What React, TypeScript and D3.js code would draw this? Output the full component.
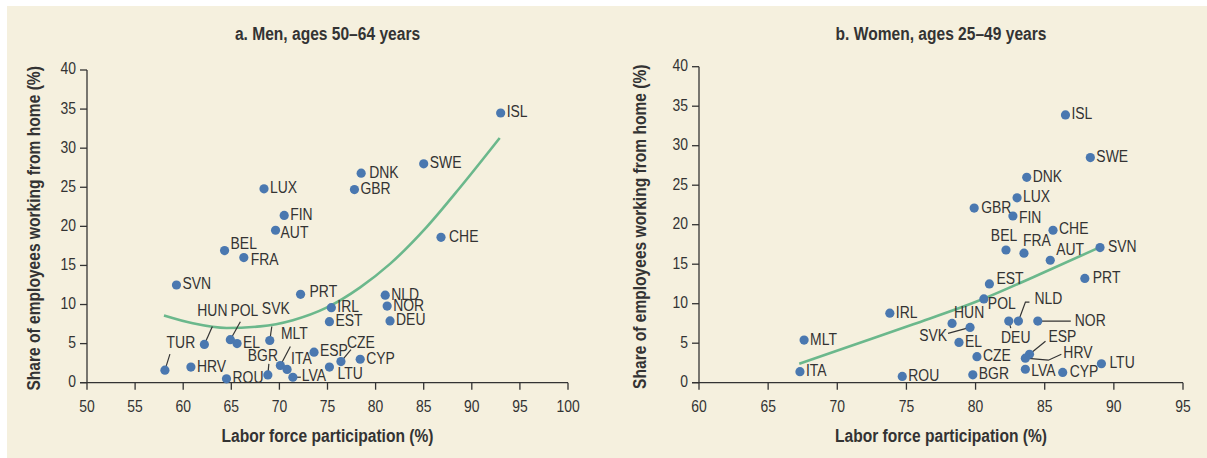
import React from 'react';
import * as d3 from 'd3';

// panel a: men 50-64
const codesA = ['ISL', 'SWE', 'DNK', 'GBR', 'LUX', 'FIN', 'AUT', 'CHE', 'BEL', 'FRA', 'SVN', 'PRT', 'NLD', 'NOR', 'IRL', 'EST', 'DEU', 'HUN', 'POL', 'EL', 'SVK', 'TUR', 'HRV', 'ROU', 'BGR', 'MLT', 'ITA', 'LVA', 'ESP', 'CZE', 'LTU', 'CYP'];
const lfpA = [93.0, 85.0, 78.5, 77.8, 68.4, 70.5, 69.6, 86.8, 64.3, 66.3, 59.3, 72.2, 81.0, 81.2, 75.4, 75.2, 81.5, 62.2, 64.9, 65.6, 69.0, 58.1, 60.8, 64.5, 68.8, 70.1, 70.8, 71.4, 73.6, 76.4, 75.2, 78.4];
const wfhA = [34.5, 28.0, 26.8, 24.7, 24.8, 21.4, 19.5, 18.6, 16.9, 16.0, 12.5, 11.3, 11.2, 9.8, 9.6, 7.8, 7.9, 4.9, 5.5, 5.0, 5.4, 1.6, 2.0, 0.5, 1.0, 2.2, 1.7, 0.7, 3.9, 2.7, 2.0, 3.0];
const fitXA = [58.0, 61.0, 64.5, 68.0, 71.4, 74.9, 78.4, 81.5, 85.3, 88.8, 92.9];
const fitYA = [8.6, 7.6, 7.0, 7.2, 8.0, 9.6, 12.2, 15.2, 19.9, 25.0, 31.3];
const xTicksA = [50, 55, 60, 65, 70, 75, 80, 85, 90, 95, 100];

// panel b: women 25-49
const codesB = ['ISL', 'SWE', 'DNK', 'LUX', 'GBR', 'FIN', 'CHE', 'BEL', 'FRA', 'AUT', 'SVN', 'PRT', 'EST', 'POL', 'IRL', 'HUN', 'SVK', 'EL', 'DEU', 'NLD', 'NOR', 'CZE', 'ESP', 'HRV', 'LVA', 'CYP', 'BGR', 'ROU', 'LTU', 'MLT', 'ITA'];
const lfpB = [86.5, 88.3, 83.7, 83.0, 79.9, 82.7, 85.6, 82.2, 83.5, 85.4, 89.0, 87.9, 81.0, 80.6, 73.8, 78.3, 79.6, 78.8, 82.4, 83.1, 84.5, 80.1, 83.9, 83.6, 83.6, 86.3, 79.8, 74.7, 89.1, 67.6, 67.3];
const wfhB = [33.9, 28.5, 26.0, 23.4, 22.1, 21.1, 19.3, 16.8, 16.4, 15.5, 17.1, 13.2, 12.5, 10.6, 8.8, 7.5, 7.0, 5.1, 7.8, 7.8, 7.8, 3.3, 3.6, 3.1, 1.7, 1.3, 1.0, 0.8, 2.4, 5.4, 1.4];
const fitXB = [67.25, 70.7, 75.5, 80.4, 84.6, 88.8];
const fitYB = [2.4, 4.5, 7.4, 10.5, 13.7, 17.0];
const xTicksB = [60, 65, 70, 75, 80, 85, 90, 95];

const yTicks = [0, 5, 10, 15, 20, 25, 30, 35, 40];

type Lab = { dx: number; dy: number; anchor?: string; line?: number[][] };

// label placement relative to dot (px)
const labelsA: Record<string, Lab> = {
  DNK: { dx: 8, dy: 0 },
  BEL: { dx: 6, dy: -6 },
  FRA: { dx: 7, dy: 3 },
  AUT: { dx: 5, dy: 3 },
  CHE: { dx: 8, dy: 0 },
  PRT: { dx: 9, dy: -2 },
  ESP: { dx: 6, dy: -1 },
  HUN: { dx: 8, dy: -33, anchor: 'middle', line: [[0, 0], [8, -18]] },
  POL: { dx: 14, dy: -28, anchor: 'middle', line: [[0, 0], [10, -18]] },
  SVK: { dx: 6, dy: -31, anchor: 'middle', line: [[0, 0], [2, -14]] },
  TUR: { dx: 16, dy: -27, anchor: 'middle', line: [[0, 0], [5, -16]] },
  BGR: { dx: -5, dy: -18, anchor: 'middle', line: [[0, 0], [1, -11]] },
  MLT: { dx: 14, dy: -31, anchor: 'middle', line: [[0, 0], [10, -19]] },
  CZE: { dx: 20, dy: -18, anchor: 'middle', line: [[0, 0], [10, -12]] },
  LVA: { dx: 9, dy: -1, line: [[0, 0], [8, 0]] },
  ITA: { dx: 4, dy: -10 },
  LTU: { dx: 8, dy: 7 },
};

const labelsB: Record<string, Lab> = {
  GBR: { dx: 7, dy: 0 },
  FIN: { dx: 6, dy: 2 },
  CHE: { dx: 6, dy: -1 },
  BEL: { dx: -2, dy: -13, anchor: 'middle' },
  FRA: { dx: -1, dy: -12 },
  AUT: { dx: 6, dy: -10 },
  SVN: { dx: 8, dy: 0 },
  PRT: { dx: 8, dy: 0 },
  EST: { dx: 7, dy: -4 },
  POL: { dx: 4, dy: 6 },
  HUN: { dx: 2, dy: -10 },
  SVK: { dx: -23, dy: 9, anchor: 'end', line: [[0, 0], [-22, 6]] },
  DEU: { dx: 7, dy: 17, anchor: 'middle', line: [[0, 0], [2, 7]] },
  NLD: { dx: 16, dy: -22, line: [[0, 0], [7, -19], [11, -19]] },
  NOR: { dx: 37, dy: 0, line: [[0, 0], [33, 0]] },
  ESP: { dx: 19, dy: -17, line: [[0, 0], [16, -13]] },
  HRV: { dx: 38, dy: -5, line: [[0, 0], [23, 2], [36, -4]] },
  LVA: { dx: 6, dy: 2 },
  CYP: { dx: 7, dy: 0 },
  LTU: { dx: 8, dy: 0 },
};

const FONT = "'Liberation Sans', Arial, sans-serif";
const INK = '#333333';
const DOT = '#4a78b0';
const FIT = '#6bb88c';
const NARROW = 0.82; // squeeze to mimic a condensed face

// text squeezed horizontally around its anchor point
const NText = (props: {
  x: number;
  y: number;
  size: number;
  anchor?: string;
  bold?: boolean;
  rotate?: boolean;
  children: React.ReactNode;
}) => (
  <text
    transform={`translate(${props.x},${props.y})${props.rotate ? ' rotate(-90)' : ''} scale(${NARROW},1)`}
    textAnchor={props.anchor || 'start'}
    dominantBaseline="middle"
    fontWeight={props.bold ? 'bold' : 'normal'}
    fontSize={props.size}
  >
    {props.children}
  </text>
);

type PanelProps = {
  title: string;
  codes: string[];
  xs: number[];
  ys: number[];
  fitX: number[];
  fitY: number[];
  xTicks: number[];
  labels: Record<string, Lab>;
  left: number;
  right: number;
  top: number;
  bottom: number;
  yTitleX: number;
};

const Panel = (p: PanelProps) => {
  const x = d3.scaleLinear().domain([p.xTicks[0], p.xTicks[p.xTicks.length - 1]]).range([p.left, p.right]);
  const y = d3.scaleLinear().domain([0, 40]).range([p.bottom, p.top]);
  const line = d3
    .line<number>()
    .x((_, i) => x(p.fitX[i]))
    .y((_, i) => y(p.fitY[i]))
    .curve(d3.curveMonotoneX);
  const midX = (p.left + p.right) / 2;
  const midY = (p.top + p.bottom) / 2;

  return (
    <g fontFamily={FONT} fill={INK}>
      <NText x={midX} y={35} anchor="middle" bold size={19}>
        {p.title}
      </NText>

      {/* fit line */}
      <path d={line(p.fitX) || ''} fill="none" stroke={FIT} strokeWidth={2.6} />

      {/* axes */}
      <line x1={p.left} x2={p.left} y1={p.top} y2={p.bottom} stroke={INK} strokeWidth={1.3} />
      <line x1={p.left - 7} x2={p.right} y1={p.bottom} y2={p.bottom} stroke={INK} strokeWidth={1.3} />
      {yTicks.map((t) => (
        <g key={'y' + t}>
          <line x1={p.left - 7} x2={p.left} y1={y(t)} y2={y(t)} stroke={INK} strokeWidth={1.3} />
          <NText x={p.left - 11} y={y(t)} anchor="end" size={17}>
            {t}
          </NText>
        </g>
      ))}
      {p.xTicks.map((t) => (
        <g key={'x' + t}>
          <line x1={x(t)} x2={x(t)} y1={p.bottom} y2={p.bottom + 7} stroke={INK} strokeWidth={1.3} />
          <NText x={x(t)} y={p.bottom + 25} anchor="middle" size={17}>
            {t}
          </NText>
        </g>
      ))}
      <NText x={midX} y={437} anchor="middle" bold size={19}>
        Labor force participation (%)
      </NText>
      <NText x={p.yTitleX} y={midY + 2} anchor="middle" bold rotate size={19}>
        Share of employees working from home (%)
      </NText>

      {/* leader lines */}
      {p.codes.map((c, i) => {
        const l = p.labels[c];
        if (!l || !l.line) return null;
        const cx = x(p.xs[i]);
        const cy = y(p.ys[i]);
        const pts = l.line.map((q) => `${cx + q[0]},${cy + q[1]}`).join(' ');
        return <polyline key={'l' + c} points={pts} fill="none" stroke={INK} strokeWidth={1.2} />;
      })}

      {/* points */}
      {p.codes.map((c, i) => (
        <circle key={'c' + c} cx={x(p.xs[i])} cy={y(p.ys[i])} r={4.6} fill={DOT} />
      ))}

      {/* labels */}
      {p.codes.map((c, i) => {
        const l = p.labels[c] || { dx: 6, dy: 0 };
        return (
          <NText key={'t' + c} x={x(p.xs[i]) + l.dx} y={y(p.ys[i]) + l.dy} anchor={l.anchor} size={17}>
            {c}
          </NText>
        );
      })}
    </g>
  );
};

export default function App() {
  return (
    <svg width={1207} height={458} style={{ position: 'absolute', left: 0, top: 0 }}>
      <rect x={0} y={0} width={1207} height={458} fill="#ffffff" />
      <rect x={7} y={6} width={1200} height={452} fill="#f5f0de" />
      <Panel
        title="a. Men, ages 50–64 years"
        codes={codesA}
        xs={lfpA}
        ys={wfhA}
        fitX={fitXA}
        fitY={fitYA}
        xTicks={xTicksA}
        labels={labelsA}
        left={87}
        right={568}
        top={70}
        bottom={382.7}
        yTitleX={35}
      />
      <Panel
        title="b. Women, ages 25–49 years"
        codes={codesB}
        xs={lfpB}
        ys={wfhB}
        fitX={fitXB}
        fitY={fitYB}
        xTicks={xTicksB}
        labels={labelsB}
        left={699}
        right={1183}
        top={66.7}
        bottom={382.7}
        yTitleX={641}
      />
    </svg>
  );
}
